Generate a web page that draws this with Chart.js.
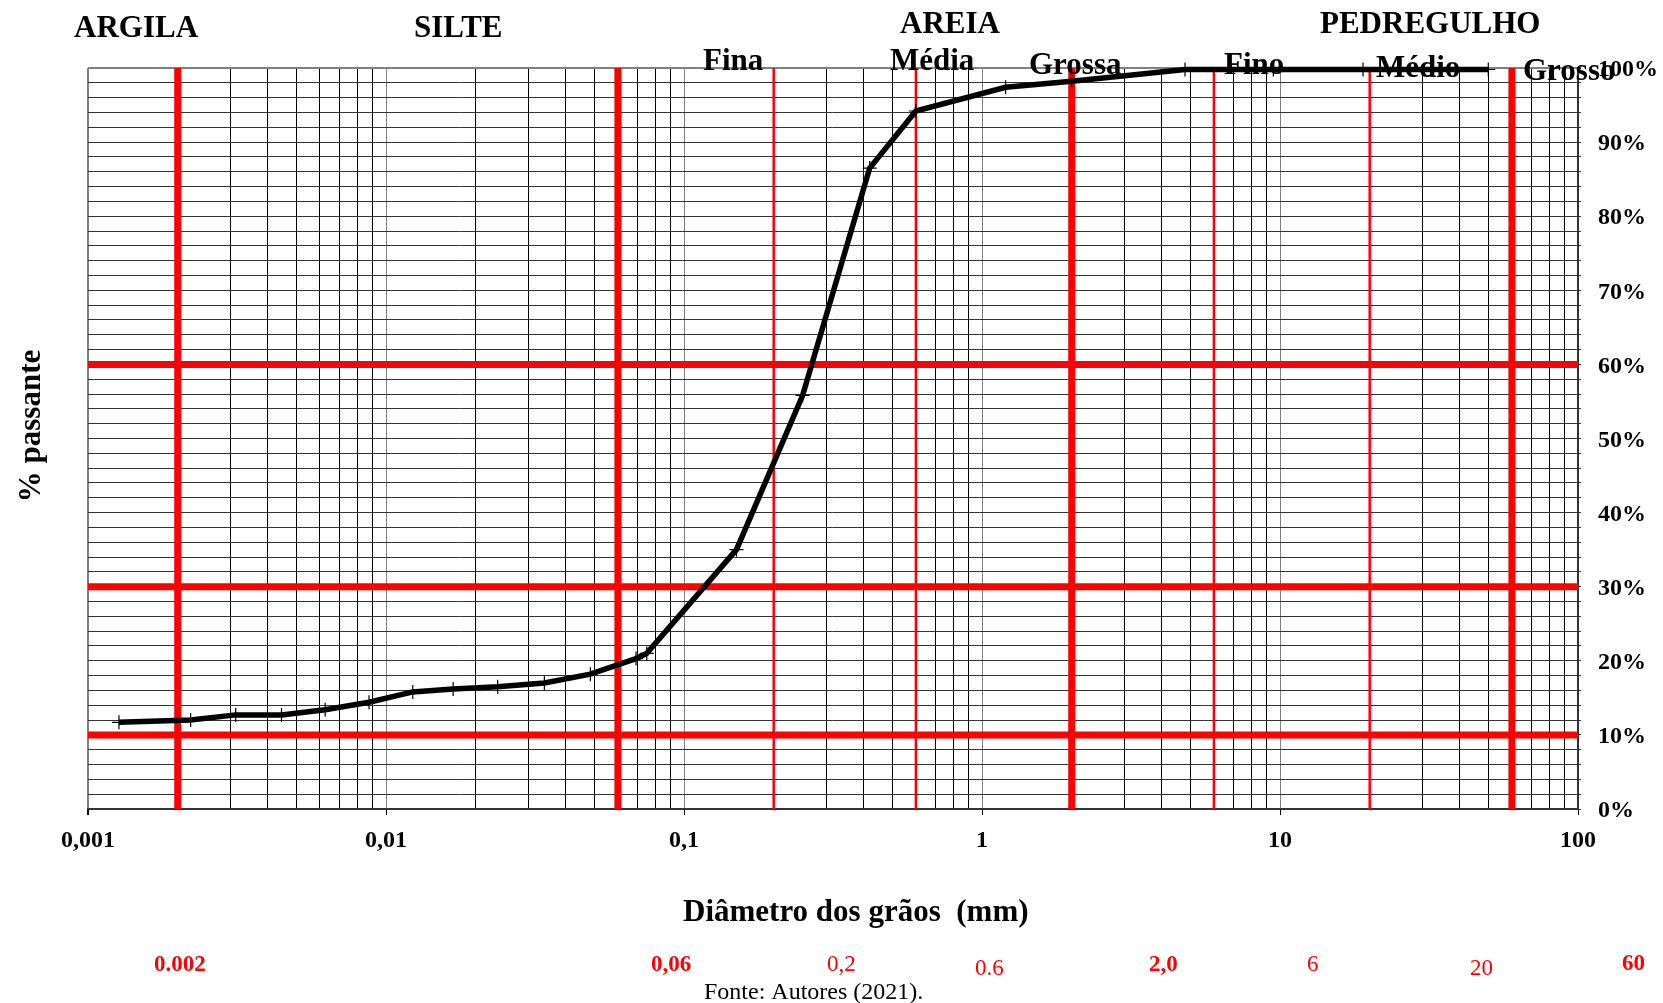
<!DOCTYPE html>
<html>
<head>
<meta charset="utf-8">
<script src="https://cdn.jsdelivr.net/npm/chart.js@4.4.1/dist/chart.umd.min.js"></script>
<style>
    html, body { margin: 0; padding: 0; background: #fff; }
    #wrap { width: 1663px; height: 1003px; }
</style>
</head>
<body>
<div id="wrap"><canvas id="chart-grain" width="1663" height="1003"></canvas></div>
<script>
// Curva granulométrica
const grainSize = [0.00127, 0.00221, 0.00313, 0.00446, 0.00625, 0.00877, 0.0123, 0.0168, 0.0237, 0.034, 0.0485, 0.069, 0.075, 0.15, 0.25, 0.42, 0.6, 1.2, 2.0, 4.8, 9.5, 19, 50];
const passing   = [11.7, 12.0, 12.7, 12.7, 13.4, 14.4, 15.8, 16.2, 16.5, 17.0, 18.2, 20.3, 21.0, 35.0, 55.8, 86.5, 94.2, 97.4, 98.2, 99.8, 99.8, 99.8, 99.8];

const xTickValues = [0.001, 0.01, 0.1, 1, 10, 100];
const xTickLabels = ['0,001', '0,01', '0,1', '1', '10', '100'];

// limites das frações (linhas vermelhas)
const redThickX = [0.002, 0.06, 2, 60];
const redThinX = [0.2, 0.6, 6, 20];
const redThickY = [10, 30, 60];

const soilNames = ['ARGILA', 'SILTE', 'AREIA', 'PEDREGULHO'];
const subNames = ['Fina', 'Média', 'Grossa', 'Fino', 'Médio', 'Grosso'];
const limitLabels = ['0.002', '0,06', '0,2', '0.6', '2,0', '6', '20', '60'];
const limitBold = [true, true, false, false, true, false, false, true];

const xTitle = 'Diâmetro dos grãos  (mm)';
const yTitle = '% passante';
const sourceNote = 'Fonte: Autores (2021).';

const SERIF = '"Liberation Serif", "Times New Roman", serif';

function isDecade(v) {
    const l = Math.log10(v);
    return Math.abs(l - Math.round(l)) < 1e-6;
}

function logGridValues() {
    const vals = [];
    for (let n = -3; n <= 1; n++) {
        for (let m = 1; m <= 9; m++) vals.push(parseFloat((m * Math.pow(10, n)).toPrecision(6)));
    }
    vals.push(100);
    return vals;
}

// linhas vermelhas desenhadas por cima da grade
const redLines = {
    id: 'redLines',
    beforeDatasetsDraw(chart) {
        const { ctx, chartArea: a, scales: { x, y } } = chart;
        ctx.save();
        ctx.strokeStyle = '#ff0000';
        const vline = (v, w) => {
            const px = x.getPixelForValue(v);
            ctx.lineWidth = w;
            ctx.beginPath(); ctx.moveTo(px, a.top); ctx.lineTo(px, a.bottom); ctx.stroke();
        };
        redThinX.forEach(v => vline(v, 2.5));
        redThickX.forEach(v => vline(v, 7));
        redThickY.forEach(v => {
            const py = y.getPixelForValue(v);
            ctx.lineWidth = 7;
            ctx.beginPath(); ctx.moveTo(a.left, py); ctx.lineTo(a.right, py); ctx.stroke();
        });
        ctx.restore();
    }
};

// textos livres (títulos, frações, fonte)
const annotations = {
    id: 'annotations',
    afterDraw(chart) {
        const ctx = chart.ctx;
        ctx.save();
        ctx.textBaseline = 'alphabetic';
        ctx.textAlign = 'left';
        ctx.fillStyle = '#000';

        ctx.font = 'bold 31px ' + SERIF;
        const headPos = [[74, 37], [414, 37], [900, 33], [1320, 33]];
        soilNames.forEach((t, i) => ctx.fillText(t, headPos[i][0], headPos[i][1]));

        const subPos = [[703, 70], [890, 70], [1029, 74], [1224, 74], [1376, 77], [1523, 80]];
        subNames.forEach((t, i) => ctx.fillText(t, subPos[i][0], subPos[i][1]));

        ctx.fillText(xTitle, 683, 921);

        ctx.save();
        ctx.translate(40, 426);
        ctx.rotate(-Math.PI / 2);
        ctx.textAlign = 'center';
        ctx.fillText(yTitle, 0, 0);
        ctx.restore();

        ctx.fillStyle = '#ff0000';
        const limPos = [[154, 971], [651, 971], [827, 971], [975, 975], [1149, 971], [1307, 971], [1470, 975], [1622, 970]];
        limitLabels.forEach((t, i) => {
            ctx.font = (limitBold[i] ? 'bold ' : '') + '23px ' + SERIF;
            ctx.fillText(t, limPos[i][0], limPos[i][1]);
        });

        ctx.fillStyle = '#000';
        ctx.font = '24px ' + SERIF;
        ctx.fillText(sourceNote, 704, 999);
        ctx.restore();
    }
};

const ctxGrain = document.getElementById('chart-grain');
const chart = new Chart(ctxGrain, {
    type: 'line',
    data: {
        datasets: [{
            label: 'Curva granulométrica',
            data: grainSize.map((d, i) => ({ x: d, y: passing[i] })),
            borderColor: '#000',
            borderWidth: 5.5,
            tension: 0,
            pointStyle: 'cross',
            pointRadius: 7,
            pointBorderWidth: 1.2,
            pointBorderColor: '#000',
            pointBackgroundColor: '#000',
            clip: false
        }]
    },
    options: {
        responsive: false,
        animation: false,
        layout: { padding: { left: 88, top: 68, right: 0, bottom: 0 } },
        plugins: { legend: { display: false }, tooltip: { enabled: false } },
        scales: {
            x: {
                type: 'logarithmic',
                position: 'bottom',
                min: 0.001,
                max: 100,
                afterBuildTicks: (scale) => {
                    scale.ticks = logGridValues().map(v => ({ value: v, major: isDecade(v) }));
                },
                afterFit: (scale) => { scale.height = 194; },
                ticks: {
                    autoSkip: false,
                    maxRotation: 0,
                    minRotation: 0,
                    padding: 11,
                    color: '#000',
                    font: { family: SERIF, size: 24, weight: 'bold' },
                    callback: (value) => {
                        const i = xTickValues.findIndex(t => Math.abs(t - value) / t < 1e-6);
                        return i >= 0 ? xTickLabels[i] : '';
                    }
                },
                grid: {
                    color: (c) => (c.tick && isDecade(c.tick.value)) ? '#808080' : '#000',
                    lineWidth: (c) => (c.tick && c.tick.value === 0.001) ? 2 : 1,
                    drawTicks: true,
                    tickLength: 6,
                    tickColor: (c) => (c.tick && isDecade(c.tick.value)) ? '#000' : 'rgba(0,0,0,0)'
                },
                border: { color: '#333', width: 2 }
            },
            y: {
                type: 'linear',
                position: 'right',
                min: 0,
                max: 100,
                afterFit: (scale) => { scale.width = 85; },
                ticks: {
                    stepSize: 2,
                    autoSkip: false,
                    padding: 17,
                    labelOffset: 2,
                    color: '#000',
                    font: { family: SERIF, size: 24, weight: 'bold' },
                    callback: (value) => value % 10 === 0 ? value + '%' : ''
                },
                grid: {
                    color: (c) => (c.tick && c.tick.value === 100) ? '#808080' : '#333',
                    lineWidth: (c) => (c.tick && c.tick.value === 100) ? 2 : 1,
                    drawTicks: true,
                    tickLength: 3,
                    tickColor: '#333'
                },
                border: { color: '#333', width: 2 }
            }
        }
    },
    plugins: [redLines, annotations]
});
</script>
</body>
</html>
